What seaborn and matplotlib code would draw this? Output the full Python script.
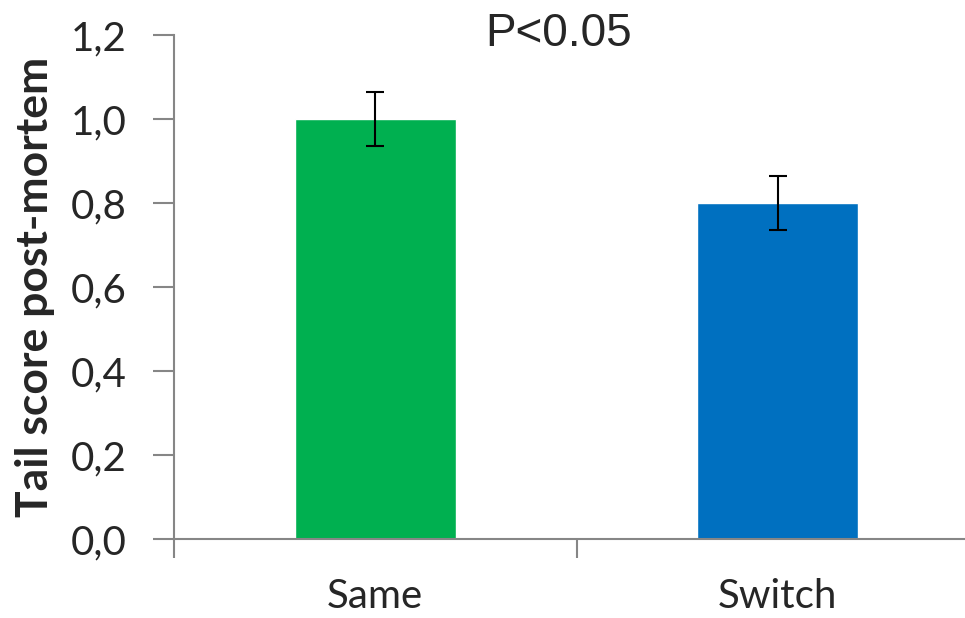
import numpy as np
import pandas as pd
import matplotlib
matplotlib.use('Agg')
import matplotlib.pyplot as plt
import seaborn as sns

# valores
grupos = ['Same', 'Switch']
medias = [1.0, 0.8]
erros = [0.065, 0.065]
cores = ['#00B050', '#0070C0']

sns.set_style('white')
plt.rcParams['font.family'] = ['Lato', 'DejaVu Sans']

df = pd.DataFrame({'Grupo': grupos, 'Tail': medias})

fig = plt.figure(figsize=(9.65, 6.18), dpi=100)
ax = fig.add_axes([174 / 965, 79 / 618, 805 / 965, 504 / 618])

sns.barplot(data=df, x='Grupo', y='Tail', hue='Grupo', palette=cores,
            width=0.4, legend=False, ax=ax, saturation=1, errorbar=None)
ax.errorbar(np.arange(len(grupos)), medias, yerr=erros, fmt='none',
            ecolor='black', elinewidth=1.5, capsize=6.5, capthick=1.5)

ax.set_xlim(-0.5, 1.5)
ax.set_ylim(0, 1.2)
ax.set_yticks(np.arange(0, 1.21, 0.2))
ax.set_yticklabels([f'{v:.1f}'.replace('.', ',') for v in np.arange(0, 1.21, 0.2)])
ax.set_xticks([0, 1])
ax.set_xticks([-0.5, 0.5, 1.5], minor=True)

sns.despine(ax=ax, top=True, right=True)
for s in ['left', 'bottom']:
    ax.spines[s].set_color('#868686')
    ax.spines[s].set_linewidth(1.5)

ax.tick_params(axis='y', which='major', length=15, width=1.5, color='#868686',
               labelsize=29, pad=19, left=True)
ax.tick_params(axis='x', which='major', length=0, labelsize=29, pad=28)
ax.tick_params(axis='x', which='minor', length=14, width=1.5, color='#868686',
               bottom=True)

ax.set_xlabel('')
ax.set_ylabel('Tail score post-mortem', fontsize=32, fontweight='bold')
ax.yaxis.set_label_coords(-0.148, 0.5)

fig.text(559 / 965, 1 - 46 / 618, 'P<0.05', ha='center', va='baseline',
         fontsize=33, family=['Liberation Sans', 'DejaVu Sans'])

fig.savefig('out.png', dpi=100)
